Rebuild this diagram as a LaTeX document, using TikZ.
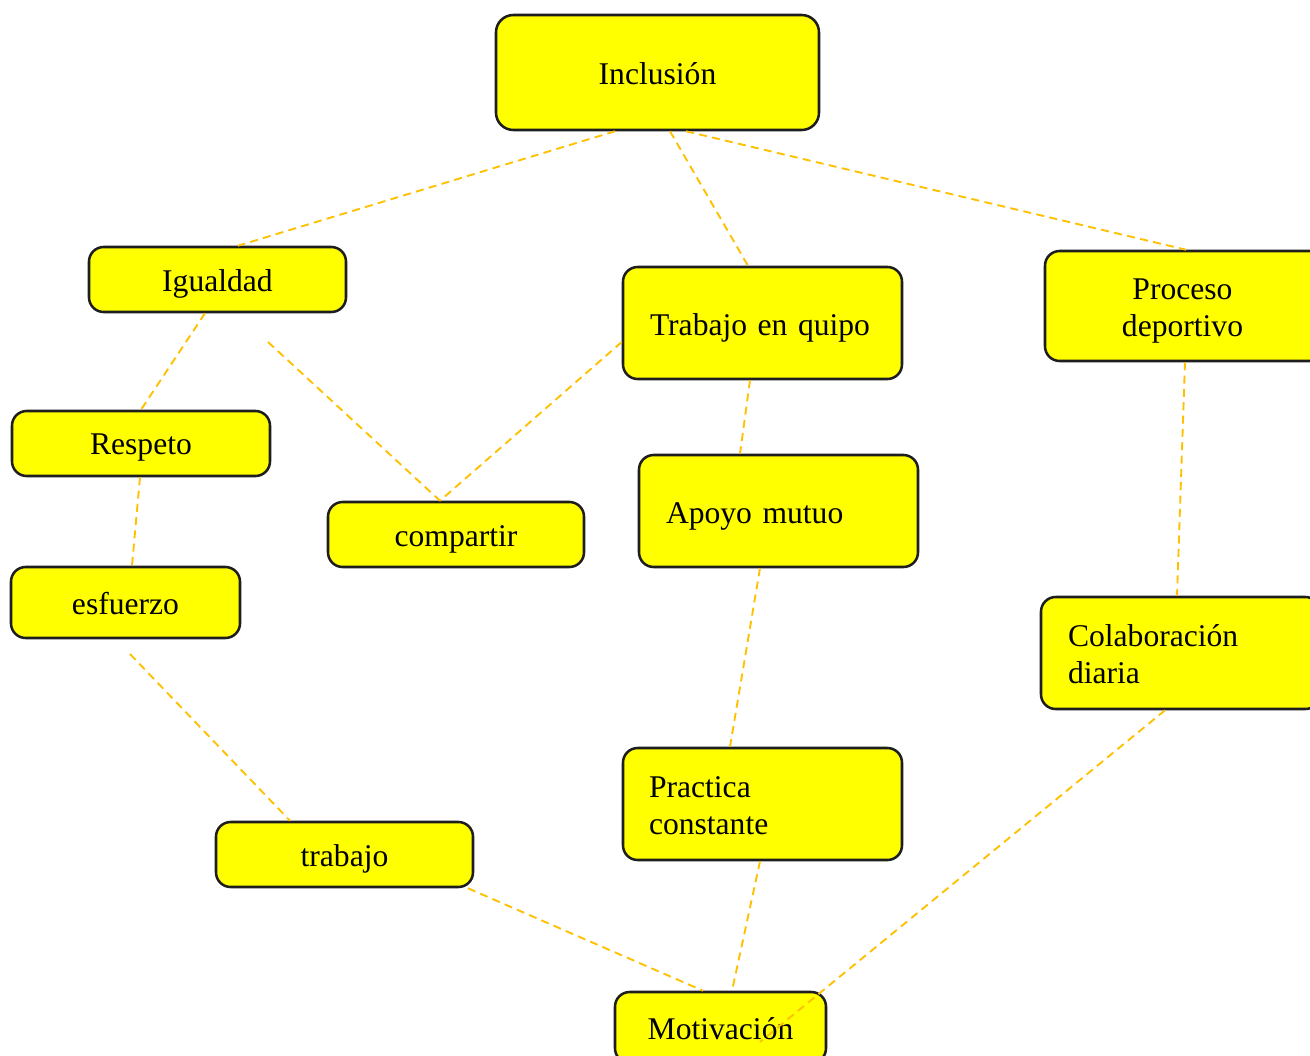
\documentclass[tikz,border=0pt]{standalone}
\usepackage{fontspec}
\setmainfont{Liberation Serif}
\definecolor{linkc}{RGB}{255,192,0}
\definecolor{boxfill}{RGB}{255,255,0}
\definecolor{boxline}{RGB}{30,30,30}
\begin{document}
\begin{tikzpicture}[x=0.75pt,y=-0.75pt,
  box/.style={draw=boxline,line width=1.9pt,fill=boxfill,rounded corners=11pt,inner sep=0pt},
  lbl/.style={font=\fontsize{23.7}{27.8}\selectfont,align=center,inner sep=0pt},
  llbl/.style={lbl,align=left,text width=168.75pt},
  lbox/.style={box,minimum width=209.25pt,minimum height=84pt},
  link/.style={draw=linkc,line width=1.4pt,dash pattern=on 6pt off 4pt}]
\useasboundingbox (0,0) rectangle (1310,1056);
\fill[white] (0,0) rectangle (1310,1056);

\node[box,minimum width=242.25pt,minimum height=86.25pt,rounded corners=13pt,
  label={[lbl,yshift=-0.75pt]center:Inclusión}] (inc) at (657.5,72.5) {};
\node[box,minimum width=192.75pt,minimum height=48.75pt,
  label={[lbl,yshift=-3pt]center:Igualdad}] (igu) at (217.5,279.5) {};
\node[lbox,label={[llbl,yshift=-3.75pt]center:Trabajo en quipo}] (tra) at (762.5,323) {};
\node[box,minimum width=209.25pt,minimum height=82.5pt,
  label={[lbl,yshift=-3.75pt,xshift=-1.5pt]center:Proceso\\deportivo}] (pro) at (1184.5,306) {};
\node[box,minimum width=193.5pt,minimum height=48.75pt,
  label={[lbl,yshift=-3pt]center:Respeto}] (res) at (141,443.5) {};
\node[box,minimum width=192pt,minimum height=48.75pt,
  label={[lbl,yshift=-3.75pt]center:compartir}] (com) at (456,534.5) {};
\node[lbox,label={[llbl,yshift=-3.75pt]center:Apoyo mutuo}] (apo) at (778.5,511) {};
\node[box,minimum width=171.75pt,minimum height=53.25pt,
  label={[lbl,yshift=-0.75pt]center:esfuerzo}] (esf) at (125.5,602.5) {};
\node[lbox,label={[llbl,yshift=-0.75pt]center:Colaboración\\diaria}] (col) at (1180.5,653) {};
\node[lbox,label={[llbl,yshift=-1.5pt,xshift=-0.75pt]center:Practica\\constante}] (pra) at (762.5,804) {};
\node[box,minimum width=192.75pt,minimum height=48.75pt,
  label={[lbl,yshift=-3pt]center:trabajo}] (tbj) at (344.5,854.5) {};
\node[box,minimum width=158.25pt,minimum height=53.25pt,
  label={[lbl,yshift=-0.75pt]center:Motivación}] (mot) at (720.5,1027.5) {};

\coordinate (c1) at (268,342);
\coordinate (c2) at (130,654);
\coordinate (c3) at (760,1042);

\draw[link] ([xshift=-31.875pt]inc.south) -- ([xshift=15.375pt]igu.north);
\draw[link] ([xshift=9.375pt]inc.south) -- ([xshift=-10.875pt]tra.north);
\draw[link] ([xshift=21.375pt]inc.south) -- ([xshift=1.125pt]pro.north);
\draw[link] ([xshift=-9.375pt]igu.south) -- (res.north);
\draw[link] (c1) -- ([xshift=-12pt]com.north);
\draw[link] ([yshift=-14.25pt]tra.west) -- ([xshift=-12pt]com.north);
\draw[link] ([xshift=-9.375pt]tra.south) -- ([xshift=-28.875pt]apo.north);
\draw[link] ([xshift=-0.75pt]res.south) -- ([xshift=4.875pt]esf.north);
\draw[link] (c2) -- ([xshift=-40.875pt]tbj.north);
\draw[link] ([xshift=-13.875pt]apo.south) -- ([xshift=-24.375pt]pra.north);
\draw[link] ([xshift=-1.875pt]pra.south) -- ([xshift=8.625pt]mot.north);
\draw[link] ([xshift=92.625pt]tbj.south) -- ([xshift=-13.125pt]mot.north);
\draw[link] ([xshift=-11.625pt]col.south) -- (c3);
\draw[link] ([xshift=0.375pt]pro.south) -- ([xshift=-2.625pt]col.north);
\end{tikzpicture}
\end{document}
